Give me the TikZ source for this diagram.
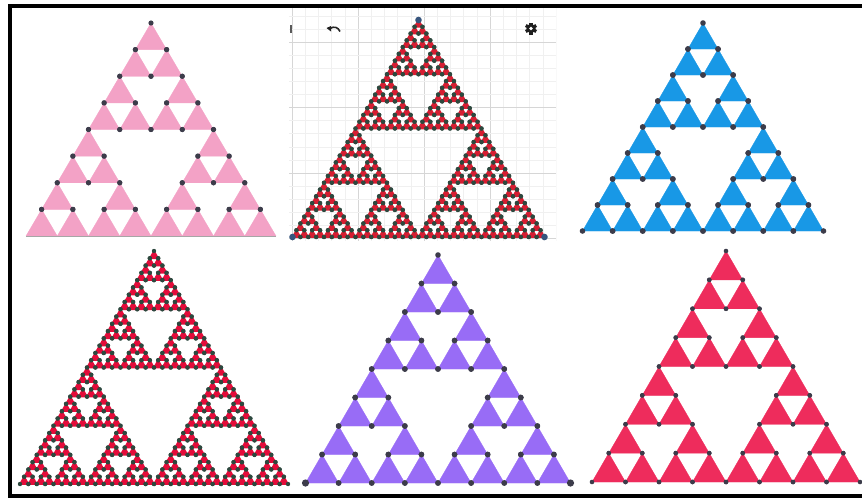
\documentclass[tikz,border=0pt]{standalone}
\definecolor{pinkF}{RGB}{243,162,198}
\definecolor{redF}{RGB}{214,30,50}
\definecolor{blueF}{RGB}{24,152,230}
\definecolor{crimF}{RGB}{228,12,58}
\definecolor{purpF}{RGB}{152,108,246}
\definecolor{roseF}{RGB}{238,44,92}
\definecolor{dotG}{RGB}{60,60,74}
\definecolor{dotT}{RGB}{45,72,62}
\definecolor{cornerB}{RGB}{55,85,125}
\definecolor{gridMin}{RGB}{240,240,240}
\definecolor{gridMaj}{RGB}{214,214,214}
\tikzset{
  leaffill/.style={fill=curfill, draw=curfill, line width=\FillLW, line join=round},
  leafdot/.style={fill=curdot},
  frameline/.style={line width=4pt, line join=miter},
  iconfill/.style={fill=black!88},
}
\makeatletter
\def\SierTri#1#2#3#4#5{%
  \ifnum#1=0\relax
    \SierLeaf{#2}{#3}{#4}{#5}%
  \else
    \begingroup
      \pgfmathtruncatemacro\st@lv{#1-1}%
      \pgfmathsetmacro\st@w{#4/2}%
      \pgfmathsetmacro\st@h{#5/2}%
      \pgfmathsetmacro\st@xl{#2-#4/4}%
      \pgfmathsetmacro\st@xr{#2+#4/4}%
      \pgfmathsetmacro\st@yb{#3+#5/2}%
      \edef\st@next{%
        \noexpand\SierTri{\st@lv}{#2}{#3}{\st@w}{\st@h}%
        \noexpand\SierTri{\st@lv}{\st@xl}{\st@yb}{\st@w}{\st@h}%
        \noexpand\SierTri{\st@lv}{\st@xr}{\st@yb}{\st@w}{\st@h}}%
    \expandafter\endgroup\st@next
  \fi}
\makeatother
\newcommand\FillLeaf[4]{%
  \fill[leaffill] (#1,#2) -- ({#1-#3/2},{#2+#4}) -- ({#1+#3/2},{#2+#4}) -- cycle;}
\newcommand\DotLeaf[4]{%
  \fill[leafdot] (#1,#2) circle[radius=\DotR];%
  \pgfmathsetmacro\DotBy{#2+#4}%
  \ifdim\DotBy pt<\DotMaxY pt\relax
    \fill[leafdot] ({#1-#3/2},\DotBy) circle[radius=\DotR];%
    \fill[leafdot] ({#1+#3/2},\DotBy) circle[radius=\DotR];%
  \fi}
% #1 level, #2 apex x, #3 apex y, #4 width, #5 height
\newcommand\SierPanel[5]{%
  \let\SierLeaf\FillLeaf
  \SierTri{#1}{#2}{#3}{#4}{#5}%
  \let\SierLeaf\DotLeaf
  \SierTri{#1}{#2}{#3}{#4}{#5}}
\begin{document}
\begin{tikzpicture}[x=1pt,y=-1pt]
\useasboundingbox[fill=white] (0,0) rectangle (862,498);

% ---- top middle: grid background
\begin{scope}
  \clip (289,8) rectangle (556,241);
  \foreach \k in {0,...,20}{
    \pgfmathtruncatemacro\mm{mod(\k,5)}
    \ifnum\mm=0
      \draw[gridMaj, line width=0.7pt] ({292+\k*13.2},8) -- ({292+\k*13.2},241);
    \else
      \draw[gridMin, line width=0.6pt] ({292+\k*13.2},8) -- ({292+\k*13.2},241);
    \fi
  }
  \foreach \k in {-2,...,15}{
    \pgfmathtruncatemacro\mm{mod(\k+10,5)}
    \ifnum\mm=0
      \draw[gridMaj, line width=0.7pt] (289,{42+\k*13.1}) -- (556,{42+\k*13.1});
    \else
      \draw[gridMin, line width=0.6pt] (289,{42+\k*13.1}) -- (556,{42+\k*13.1});
    \fi
  }
\end{scope}
% toolbar icons
\draw[gray!70!black, line width=1.4pt] (291,25) -- (291,33);
\fill[iconfill] (326.5,28) -- (331,26) -- (331,31.5) -- cycle;
\draw[black!85, line width=1.6pt] (330,28.5) .. controls (334,26) and (338,27) .. (340,31.5);
% gear icon
\begin{scope}[shift={(531,28.5)}]
  \foreach \a in {0,60,...,300}
    \fill[iconfill, rotate=\a] (-1.6,-6) rectangle (1.6,0);
  \fill[iconfill] (0,0) circle[radius=4.6pt];
  \fill[white] (0,0) circle[radius=1.9pt];
\end{scope}

% ---- panel 1: pink
\colorlet{curfill}{pinkF}\colorlet{curdot}{dotG}
\def\FillLW{0.3pt}
\def\DotR{2.6pt}\def\DotMaxY{235}
\SierPanel{3}{151}{23}{250}{213}
\draw[gray!70, line width=0.8pt] (26,236) -- (276,236);

% ---- panel 2: dark red, level 5
\colorlet{curfill}{redF}\colorlet{curdot}{dotT}
\def\FillLW{1.5pt}
\def\DotR{2.2pt}\def\DotMaxY{10000}
\SierPanel{5}{418.5}{20}{252}{217}
\fill[cornerB] (418.5,20) circle[radius=3.3pt];
\fill[cornerB] (292.5,237) circle[radius=3.3pt];
\fill[cornerB] (544.5,237) circle[radius=3.3pt];

% ---- panel 3: blue
\colorlet{curfill}{blueF}\colorlet{curdot}{dotG}
\def\FillLW{0.3pt}
\def\DotR{2.8pt}\def\DotMaxY{10000}
\SierPanel{3}{703}{23}{241}{208}

% ---- panel 4: crimson, level 5
\colorlet{curfill}{crimF}\colorlet{curdot}{dotT}
\def\FillLW{1.5pt}
\def\DotR{2.2pt}\def\DotMaxY{10000}
\SierPanel{5}{154}{251}{268}{233}

% ---- panel 5: purple
\colorlet{curfill}{purpF}\colorlet{curdot}{dotG}
\def\FillLW{0.3pt}
\def\DotR{2.8pt}\def\DotMaxY{10000}
\SierPanel{3}{438}{255}{265}{228}
\fill[dotG] (305.5,483) circle[radius=3.6pt];
\fill[dotG] (570.5,483) circle[radius=3.6pt];

% ---- panel 6: rose red
\colorlet{curfill}{roseF}\colorlet{curdot}{dotG}
\def\FillLW{0.3pt}
\def\DotR{2.3pt}\def\DotMaxY{10000}
\SierPanel{3}{726}{251}{268}{231}

% ---- frame
\draw[frameline] (862,6) -- (9.5,6) -- (9.5,495.5) -- (862,495.5);
\end{tikzpicture}
\end{document}
